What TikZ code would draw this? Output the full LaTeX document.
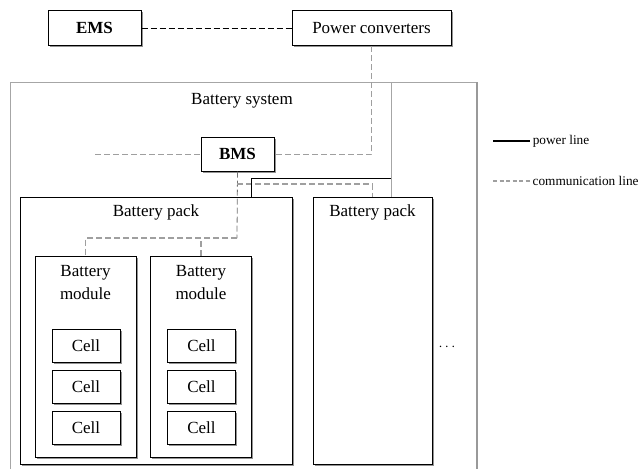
\documentclass[tikz,border=0pt]{standalone}
\usepackage{fontspec}
\setmainfont{Liberation Serif}
\usepackage{xcolor}
\usepackage{tikz}
\usetikzlibrary{shadows}

\tikzset{
    box/.style={draw, line width=1pt, fill=white, inner sep=0pt,
        drop shadow={shadow xshift=1.8pt, shadow yshift=-1.8pt, fill=gray!85, opacity=1}},
    power/.style={line width=1pt},
    comm/.style={gray!75, line width=1.2pt, dash pattern=on 6pt off 3pt},
    bigtxt/.style={font=\fontsize{17}{23}\selectfont},
    smalltxt/.style={font=\fontsize{13.3}{15}\selectfont}
}

\begin{document}
\begin{tikzpicture}[x=1pt, y=-1pt, bigtxt]
    \useasboundingbox (0,0) rectangle (640,469);

    % battery system frame
    \draw[gray!70, line width=0.8pt] (10,469) -- (10,82) -- (477,82);
    \draw[gray!80, line width=2pt] (477,82) -- (477,469);
    \node (sys) at (242,101) {Battery system};

    % top level
    \node[box, minimum width=93pt, minimum height=35pt] (ems) at (94.5,28) {\textbf{EMS}};
    \node[box, minimum width=159pt, minimum height=35pt] (pc) at (371.5,28) {Power converters};
    \node[box, minimum width=73pt, minimum height=34pt] (bms) at (237.5,154) {\textbf{BMS}};

    % packs
    \node[box, minimum width=272pt, minimum height=267pt] (pack1) at (156,330.5) {};
    \node[below=5pt] (pack1lbl) at (pack1.north) {Battery pack};
    \node[box, minimum width=119pt, minimum height=267pt] (pack2) at (372.5,330.5) {};
    \node[below=5pt] (pack2lbl) at (pack2.north) {Battery pack};
    \node[smalltxt] (more) at (447,347) {$\cdots$};

    % modules and cells
    \foreach \x[count=\i] in {85.5, 201} {
        \node[box, minimum width=101pt, minimum height=201pt] (mod\i) at (\x,356.5) {};
        \node[align=center, below=6pt] (mod\i lbl) at (mod\i.north) {Battery\\module};
        \foreach \y[count=\j] in {345.5, 386.5, 428} {
            \node[box, minimum width=68pt, minimum height=33pt] (cell\i\j) at (\x+0.5,\y) {Cell};
        }
    }

    % communication lines
    \draw[line width=1pt, dash pattern=on 6pt off 3pt] (ems.east) -- (pc.west);
    \draw[comm, line width=0.9pt] (pc.south) |- (bms.east);
    \coordinate (bmsfree) at (95,154);
    \draw[comm, line width=0.8pt] (bmsfree) -- (bms.west);
    \coordinate (bus) at (237,238);
    \draw[comm, line width=0.8pt, gray!90!black] (bms.south) -- (bus);
    \draw[comm] (bus) -| (mod1.north);
    \draw[comm] (mod2.north) -- (mod2.north |- bus);
    \coordinate (tap) at (237,184);
    \draw[comm] (tap) -| (pack2.north);

    % power lines
    \coordinate (systop) at (391,82);
    \coordinate (pj) at (391,178);
    \coordinate (pin) at (251,197);
    \draw[gray!70, line width=0.8pt] (systop) -- (systop |- pack2.north);
    \draw[power] (pj) -| (pin);

    % legend
    \coordinate (lgpow) at (493,141);
    \coordinate (lgcom) at (493,181);
    \draw[power, line width=1.5pt] (lgpow) -- ++(37,0) node[right, smalltxt, inner sep=2pt] (lgpowtxt) {power line};
    \draw[comm, dash pattern=on 4pt off 2.5pt] (lgcom) -- ++(37,0) node[right, smalltxt, inner sep=2pt, black] (lgcomtxt) {communication line};
\end{tikzpicture}
\end{document}
